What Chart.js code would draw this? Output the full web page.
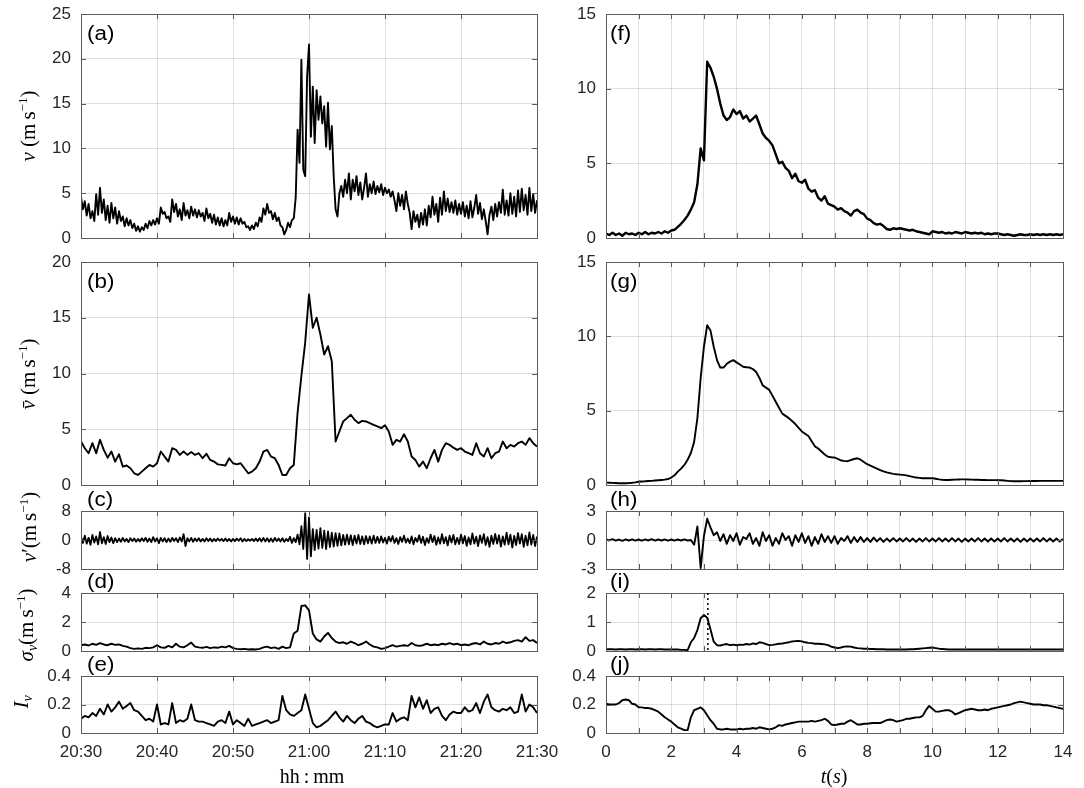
<!DOCTYPE html>
<html><head><meta charset="utf-8">
<script src="https://cdn.jsdelivr.net/npm/chart.js@4.4.1/dist/chart.umd.min.js"></script>
<style>
html,body{margin:0;padding:0;background:#fff;}
#wrap{position:relative;width:1084px;height:788px;overflow:hidden;background:#fff;}
canvas{position:absolute;}
.lbl{position:absolute;white-space:nowrap;font-family:'Liberation Serif','DejaVu Serif',serif;font-size:20px;color:#000;transform:translate(-50%,-50%);line-height:1;}
.rot{transform:translate(-50%,-50%) rotate(-90deg);font-size:21px;}
.lbl sup{font-size:13px;vertical-align:8px;}
.lbl sub{font-size:14px;vertical-align:-4px;}
.sp{display:inline-block;width:4px;}
.let{position:absolute;font-family:'Liberation Sans',Arial,sans-serif;font-size:20px;color:#000;transform:translateY(-50%) scaleX(1.12);transform-origin:left center;line-height:1;}
</style></head>
<body><div id="wrap"></div>
<script>
// ---------- DATA ----------
const leftTimeLabels = ['20:30','20:40','20:50','21:00','21:10','21:20','21:30'];
const rightTimeLabels = ['0','2','4','6','8','10','12','14'];
const yTicksA = ['0','5','10','15','20','25'];
const yTicksB = ['0','5','10','15','20'];
const yTicksC = ['-8','0','8'];
const yTicksD = ['0','2','4'];
const yTicksE = ['0','0.2','0.4'];
const yTicksF = ['0','5','10','15'];
const yTicksH = ['-3','0','3'];
const yTicksI = ['0','1','2'];

// (a) v, every 0.25 min
const vSpeed = [
4.6,3.2,4.1,2.5,3.8,2.2,3.0,1.9,4.9,2.6,5.6,2.8,4.3,2.0,3.6,1.7,3.9,2.2,3.4,1.6,
3.0,1.9,2.4,1.3,2.2,1.4,2.0,1.1,1.6,0.8,1.3,0.7,1.2,0.9,1.6,1.1,1.9,1.4,2.0,1.5,
2.2,1.6,3.4,2.7,2.9,2.2,2.4,1.8,4.3,2.9,3.8,2.4,3.2,2.0,3.9,2.5,3.1,2.2,3.5,2.5,
3.2,2.3,3.1,2.4,2.8,1.9,3.3,2.2,2.7,1.7,2.6,1.5,2.3,1.4,2.2,1.3,2.0,1.4,2.8,1.8,
2.4,1.6,2.3,1.5,2.2,1.6,1.8,1.2,1.3,0.9,1.4,1.0,1.7,1.3,2.3,1.8,3.3,2.6,3.8,2.8,
3.0,2.1,2.8,1.9,2.3,1.4,1.2,0.4,0.9,1.7,1.2,2.0,2.2,4.5,12.1,8.4,19.9,7.6,6.9,18.0,
21.6,11.3,16.9,10.6,16.5,13.2,15.8,12.8,14.7,10.2,15.1,9.9,12.5,6.9,3.2,2.4,5.0,5.8,4.6,6.5,
5.0,7.2,4.3,6.5,5.2,6.9,4.8,6.2,4.3,5.6,7.2,4.6,6.0,5.0,6.3,4.9,5.8,5.1,6.0,4.8,
5.6,5.0,5.4,4.6,5.2,4.2,3.0,5.0,3.6,4.8,3.2,5.2,3.8,2.8,1.0,3.0,1.8,2.6,1.2,2.8,
1.5,3.2,1.4,3.6,2.3,4.6,2.6,3.8,1.8,4.5,2.6,5.2,3.0,4.4,2.9,4.0,2.8,4.2,2.6,3.8,
2.7,4.0,2.4,3.6,2.2,4.1,2.3,3.4,4.8,2.7,3.9,2.1,3.2,1.9,0.4,2.6,3.5,2.0,3.8,2.4,
4.0,2.8,5.4,2.6,4.2,2.5,5.0,2.7,4.6,2.4,5.3,2.9,5.5,3.1,4.8,2.6,5.6,3.0,4.9,2.8,4.2];

// (b) mean v, every 0.5 min
const vMean = [
3.9,3.3,2.85,3.75,2.85,4.05,3.15,2.45,3.0,2.1,
2.75,1.65,1.75,1.5,1.05,0.9,1.2,1.5,1.8,1.65,
1.95,3.0,2.55,2.1,3.3,3.15,2.7,3.0,2.7,2.95,
2.7,2.85,2.4,2.8,2.25,2.1,1.85,1.8,1.75,2.4,
1.95,1.85,1.95,1.5,1.05,1.2,1.5,2.1,3.0,3.15,
2.55,2.4,1.8,0.9,0.9,1.5,1.8,6.5,9.8,12.8,
17.1,14.1,15.0,13.5,11.7,12.45,11.1,3.9,4.8,5.7,
6.0,6.3,5.85,5.55,5.75,5.7,5.55,5.4,5.25,5.1,
5.35,4.8,3.6,4.05,3.9,4.55,3.9,2.55,2.25,1.65,
2.1,1.5,2.4,3.15,2.1,3.15,3.75,3.6,3.35,3.15,
3.3,3.0,2.85,2.7,3.75,2.85,2.55,3.3,2.4,2.85,
3.0,3.9,3.3,3.6,3.45,3.75,3.9,3.6,4.2,3.75,3.45];

// (c) v' fluctuation, every 0.25 min
const vFluct = [
0.9,-0.8,1.2,-1.0,0.6,-1.3,1.4,-0.7,1.0,-1.2,2.2,-0.9,0.8,-1.1,1.1,-0.6,0.7,-0.9,0.5,-0.6,
0.4,-0.5,0.6,-0.4,0.3,-0.6,0.5,-0.3,0.4,-0.5,0.3,-0.4,0.5,-0.3,0.6,-0.5,0.4,-0.6,0.8,-0.4,
0.5,-0.9,0.6,-0.4,0.5,-0.6,0.4,-0.5,0.6,-0.3,0.5,-0.6,0.7,-0.4,1.6,-1.7,0.5,-0.4,0.6,-0.5,
0.4,-0.3,0.5,-0.4,0.3,-0.4,0.5,-0.3,0.4,-0.4,0.3,-0.3,0.4,-0.2,0.3,-0.3,0.4,-0.3,0.3,-0.4,
0.3,-0.3,0.4,-0.2,0.5,-0.4,0.3,-0.3,0.2,-0.2,0.3,-0.3,0.4,-0.3,0.5,-0.4,0.6,-0.4,0.5,-0.5,
0.4,-0.5,0.6,-0.3,0.4,-0.4,0.5,-0.5,0.3,-0.3,0.9,-0.8,0.5,-0.6,1.5,-1.2,3.8,-2.5,7.4,-5.2,
6.2,-4.5,3.0,-2.8,2.8,-2.4,3.3,-2.2,2.6,-2.5,2.4,-2.0,2.0,-1.8,1.9,-1.6,1.8,-1.5,1.4,-1.3,
1.5,-1.2,1.3,-1.4,1.2,-1.0,1.4,-1.1,1.0,-1.2,1.1,-0.9,1.0,-1.0,1.2,-0.8,0.9,-0.8,1.0,-0.7,
0.6,-1.0,0.9,-0.4,1.1,-0.8,0.5,-1.1,0.8,-0.5,1.2,-0.7,0.4,-0.9,1.0,-1.2,0.6,-0.5,1.3,-0.8,
0.9,-1.4,0.5,-0.8,1.5,-0.6,1.1,-1.3,0.7,-1.0,1.6,-0.9,0.8,-1.5,1.2,-0.7,1.4,-1.2,0.6,-1.1,
1.5,-0.9,1.1,-1.6,0.7,-1.2,1.8,-1.0,0.9,-1.7,1.3,-0.8,1.6,-1.4,0.8,-1.9,1.2,-1.1,1.7,-1.0,
1.3,-1.8,1.0,-1.3,2.0,-1.2,1.5,-2.1,1.1,-1.4,1.9,-1.0,1.6,-1.9,1.2,-1.5,2.1,-1.3,1.4,-1.7,1.0];

// (d) sigma_v, every 0.5 min
const sigmaV = [
0.40,0.45,0.38,0.50,0.42,0.55,0.45,0.40,0.50,0.42,
0.45,0.35,0.30,0.20,0.15,0.18,0.15,0.22,0.20,0.25,
0.40,0.25,0.22,0.35,0.25,0.50,0.30,0.25,0.40,0.58,
0.30,0.25,0.22,0.28,0.20,0.25,0.22,0.30,0.25,0.35,
0.20,0.15,0.12,0.15,0.10,0.12,0.10,0.15,0.25,0.30,
0.20,0.25,0.15,0.30,0.20,0.25,1.20,1.40,3.10,3.15,
2.80,1.20,0.80,0.65,1.00,1.25,0.90,0.65,0.55,0.60,
0.50,0.65,0.55,0.40,0.50,0.65,0.45,0.30,0.25,0.15,
0.20,0.30,0.40,0.30,0.35,0.40,0.35,0.55,0.40,0.35,
0.40,0.50,0.40,0.45,0.40,0.50,0.45,0.55,0.45,0.50,
0.40,0.45,0.40,0.50,0.55,0.45,0.65,0.50,0.45,0.55,
0.50,0.65,0.55,0.60,0.70,0.75,0.65,0.95,0.70,0.75,0.55];

// (e) turbulence intensity, every 0.5 min
const intensV = [
0.10,0.12,0.11,0.14,0.12,0.17,0.13,0.20,0.15,0.18,
0.22,0.17,0.19,0.21,0.16,0.15,0.12,0.09,0.10,0.08,
0.20,0.06,0.07,0.06,0.21,0.07,0.09,0.08,0.10,0.20,
0.09,0.08,0.08,0.07,0.06,0.05,0.08,0.09,0.07,0.15,
0.06,0.09,0.07,0.05,0.10,0.05,0.06,0.07,0.08,0.09,
0.07,0.08,0.09,0.26,0.16,0.13,0.12,0.14,0.16,0.27,
0.17,0.07,0.04,0.05,0.07,0.09,0.12,0.15,0.11,0.08,
0.12,0.09,0.07,0.10,0.12,0.08,0.07,0.05,0.04,0.05,
0.06,0.06,0.14,0.08,0.10,0.11,0.09,0.26,0.18,0.25,
0.17,0.23,0.14,0.17,0.18,0.12,0.09,0.13,0.15,0.14,
0.14,0.18,0.15,0.16,0.21,0.14,0.22,0.27,0.18,0.16,
0.15,0.17,0.16,0.18,0.14,0.15,0.27,0.15,0.20,0.18,0.14];

// right column: seconds, every 0.1 s
const fSpeed = [
0.3,0.2,0.35,0.2,0.3,0.15,0.35,0.25,0.3,0.2,
0.35,0.25,0.4,0.25,0.35,0.3,0.4,0.3,0.45,0.35,
0.5,0.55,0.75,0.95,1.2,1.5,1.9,2.4,3.6,6.0,
5.2,11.8,11.4,10.8,10.0,9.0,8.2,7.9,8.1,8.6,
8.3,8.5,8.0,8.2,7.8,8.0,8.2,7.6,7.0,6.7,
6.5,6.2,5.6,5.0,5.1,4.7,4.5,4.0,4.3,3.8,
3.7,3.9,3.3,3.1,3.2,2.7,2.5,2.8,2.3,2.2,
2.1,1.9,2.0,1.8,1.7,1.5,1.8,1.9,1.7,1.6,
1.3,1.2,1.0,0.9,0.95,0.8,0.6,0.55,0.65,0.6,
0.65,0.6,0.55,0.5,0.55,0.45,0.4,0.35,0.3,0.25,
0.45,0.4,0.35,0.4,0.3,0.35,0.3,0.4,0.35,0.3,
0.4,0.35,0.3,0.35,0.3,0.35,0.25,0.3,0.25,0.3,
0.3,0.25,0.2,0.25,0.2,0.15,0.2,0.25,0.2,0.2,
0.25,0.2,0.25,0.2,0.25,0.2,0.25,0.2,0.25,0.2,0.25];

const gMean = [
0.16,0.15,0.14,0.13,0.12,0.12,0.12,0.13,0.15,0.18,
0.22,0.24,0.25,0.27,0.28,0.30,0.32,0.34,0.36,0.40,
0.50,0.65,0.90,1.10,1.35,1.70,2.15,2.90,4.50,7.20,
9.30,10.75,10.40,9.30,8.40,7.90,7.90,8.15,8.30,8.40,
8.25,8.10,7.95,7.92,7.90,7.80,7.60,7.20,6.70,6.55,
6.40,6.00,5.60,5.20,4.80,4.65,4.50,4.30,4.10,3.85,
3.60,3.45,3.30,2.95,2.60,2.45,2.25,2.05,1.90,1.87,
1.85,1.75,1.65,1.62,1.60,1.68,1.75,1.80,1.70,1.55,
1.40,1.30,1.20,1.10,1.00,0.92,0.85,0.80,0.75,0.72,
0.70,0.68,0.65,0.60,0.55,0.50,0.48,0.45,0.45,0.45,
0.45,0.42,0.38,0.35,0.34,0.34,0.35,0.36,0.37,0.38,
0.38,0.37,0.36,0.35,0.35,0.34,0.34,0.33,0.33,0.33,
0.33,0.32,0.30,0.28,0.26,0.25,0.25,0.25,0.26,0.26,
0.27,0.27,0.27,0.28,0.28,0.28,0.28,0.28,0.28,0.28,0.28];

const hFluct = [
0.05,-0.05,0.08,-0.06,0.05,-0.08,0.06,-0.05,0.07,-0.06,
0.05,-0.07,0.06,-0.05,0.08,-0.06,0.05,-0.05,0.06,-0.07,
0.05,-0.06,0.05,-0.05,0.06,-0.05,0.0,-0.5,1.4,-2.9,
0.4,2.2,1.3,0.5,0.8,-0.1,0.6,-0.4,0.5,-0.1,
0.7,-0.5,0.3,0.1,0.7,-0.4,0.2,-0.6,0.8,-0.1,
0.5,-0.6,0.2,-0.4,0.7,0.0,0.4,-0.6,0.5,-0.2,
0.7,-0.3,0.4,-0.6,0.3,-0.4,0.6,-0.2,0.4,-0.3,
0.4,-0.4,0.2,-0.1,0.4,-0.3,0.3,-0.2,0.3,-0.2,
0.2,-0.2,0.25,-0.15,0.2,-0.2,0.15,-0.15,0.2,-0.15,
0.15,-0.15,0.2,-0.15,0.15,-0.2,0.15,-0.15,0.2,-0.15,
0.15,-0.15,0.2,-0.15,0.15,-0.15,0.2,-0.15,0.15,-0.2,
0.15,-0.15,0.15,-0.15,0.2,-0.15,0.15,-0.15,0.15,-0.15,
0.15,-0.15,0.2,-0.15,0.15,-0.15,0.15,-0.2,0.15,-0.15,
0.15,-0.15,0.15,-0.15,0.2,-0.15,0.15,-0.15,0.15,-0.15,0.1];

const iSigma = [
0.06,0.06,0.06,0.05,0.06,0.06,0.05,0.06,0.06,0.05,
0.06,0.06,0.05,0.06,0.06,0.05,0.06,0.06,0.05,0.05,
0.05,0.05,0.05,0.04,0.04,0.03,0.30,0.45,0.72,1.13,
1.24,1.15,0.75,0.32,0.20,0.19,0.22,0.24,0.20,0.22,
0.20,0.22,0.21,0.24,0.22,0.26,0.24,0.30,0.28,0.24,
0.20,0.21,0.23,0.25,0.26,0.28,0.30,0.33,0.34,0.35,
0.33,0.30,0.28,0.27,0.25,0.25,0.24,0.23,0.20,0.15,
0.12,0.10,0.12,0.15,0.16,0.15,0.12,0.10,0.09,0.08,
0.08,0.07,0.07,0.06,0.06,0.06,0.05,0.05,0.05,0.05,
0.05,0.05,0.05,0.06,0.06,0.07,0.08,0.09,0.10,0.11,
0.12,0.10,0.08,0.07,0.06,0.05,0.05,0.05,0.05,0.05,
0.05,0.05,0.05,0.05,0.05,0.05,0.05,0.05,0.05,0.05,
0.05,0.05,0.05,0.05,0.05,0.05,0.05,0.05,0.05,0.05,
0.05,0.05,0.05,0.05,0.05,0.05,0.05,0.05,0.05,0.05,0.05];
const iMarkerT = 3.12;

const jIntens = [
0.205,0.20,0.20,0.20,0.21,0.23,0.235,0.23,0.205,0.20,
0.18,0.18,0.175,0.175,0.17,0.16,0.15,0.13,0.11,0.095,
0.08,0.06,0.04,0.03,0.02,0.02,0.11,0.16,0.17,0.18,
0.16,0.125,0.09,0.065,0.03,0.025,0.025,0.03,0.025,0.025,
0.025,0.03,0.025,0.03,0.03,0.035,0.03,0.04,0.035,0.03,
0.025,0.03,0.04,0.055,0.05,0.06,0.065,0.07,0.075,0.08,
0.08,0.08,0.08,0.085,0.08,0.085,0.09,0.10,0.085,0.06,
0.055,0.06,0.065,0.065,0.08,0.09,0.075,0.06,0.06,0.065,
0.065,0.068,0.07,0.07,0.07,0.08,0.09,0.095,0.09,0.08,
0.085,0.09,0.10,0.10,0.105,0.11,0.11,0.12,0.16,0.19,
0.17,0.15,0.15,0.155,0.16,0.16,0.15,0.13,0.14,0.15,
0.16,0.165,0.17,0.165,0.16,0.16,0.165,0.16,0.17,0.175,
0.18,0.185,0.19,0.195,0.20,0.21,0.215,0.22,0.215,0.21,
0.205,0.20,0.20,0.20,0.195,0.195,0.19,0.185,0.18,0.175,0.17];

// ---------- LAYOUT ----------
const COLS = {L:{x0:81,x1:537,xmax:60,xstep:10,lab:(v)=>leftTimeLabels[Math.round(v/10)]},
              R:{x0:606,x1:1063,xmax:14,xstep:1,lab:(v)=>(Math.round(v)%2===0?rightTimeLabels[Math.round(v)/2]:'')}};
const ROWS = [[14,238],[262,485],[511,569],[593,651],[676,733]];
const AXW = 90, PAD = 14, PADR = 30;
const TICKFONT = {family:"'Liberation Sans', Arial, sans-serif", size:17};
const BOXCOL = '#5c5c5c';

const boxPlugin = {
  id:'box',
  afterDraw(chart, args, opts){
    const {ctx, chartArea:a, scales:{x,y}} = chart;
    ctx.save();
    ctx.strokeStyle = BOXCOL; ctx.lineWidth = 1;
    const tl = 5;
    ctx.beginPath();
    x.ticks.forEach(t=>{const p=Math.round(x.getPixelForValue(t.value))+0.5;
      ctx.moveTo(p,a.bottom); ctx.lineTo(p,a.bottom-tl); ctx.moveTo(p,a.top); ctx.lineTo(p,a.top+tl);});
    y.ticks.forEach(t=>{const p=Math.round(y.getPixelForValue(t.value))+0.5;
      ctx.moveTo(a.left,p); ctx.lineTo(a.left+tl,p); ctx.moveTo(a.right,p); ctx.lineTo(a.right-tl,p);});
    ctx.stroke();
    ctx.strokeRect(Math.round(a.left)+0.5, Math.round(a.top)+0.5, Math.round(a.right-a.left), Math.round(a.bottom-a.top));
    if (opts && opts.marker != null){
      const p = x.getPixelForValue(opts.marker);
      ctx.strokeStyle = '#000'; ctx.lineWidth = 1.5; ctx.setLineDash([2,3]);
      ctx.beginPath(); ctx.moveTo(p,a.top); ctx.lineTo(p,a.bottom); ctx.stroke();
    }
    ctx.restore();
  }
};

const panels = [
  {col:'L',row:0,data:vSpeed,step:0.25,ymin:0,ymax:25,ystep:5,yl:yTicksA,letter:'(a)',lw:1.9},
  {col:'L',row:1,data:vMean,step:0.5,ymin:0,ymax:20,ystep:5,yl:yTicksB,letter:'(b)',lw:1.9},
  {col:'L',row:2,data:vFluct,step:0.25,ymin:-8,ymax:8,ystep:8,yl:yTicksC,letter:'(c)',lw:1.8},
  {col:'L',row:3,data:sigmaV,step:0.5,ymin:0,ymax:4,ystep:2,yl:yTicksD,letter:'(d)',lw:1.9},
  {col:'L',row:4,data:intensV,step:0.5,ymin:0,ymax:0.4,ystep:0.2,yl:yTicksE,letter:'(e)',lw:1.9},
  {col:'R',row:0,data:fSpeed,step:0.1,ymin:0,ymax:15,ystep:5,yl:yTicksF,letter:'(f)',lw:2.4},
  {col:'R',row:1,data:gMean,step:0.1,ymin:0,ymax:15,ystep:5,yl:yTicksF,letter:'(g)',lw:1.9},
  {col:'R',row:2,data:hFluct,step:0.1,ymin:-3,ymax:3,ystep:3,yl:yTicksH,letter:'(h)',lw:1.9},
  {col:'R',row:3,data:iSigma,step:0.1,ymin:0,ymax:2,ystep:1,yl:yTicksI,letter:'(i)',lw:1.9,marker:iMarkerT},
  {col:'R',row:4,data:jIntens,step:0.1,ymin:0,ymax:0.4,ystep:0.2,yl:yTicksE,letter:'(j)',lw:1.9}
];

function zeroPad(s){ s.paddingLeft=0; s.paddingRight=0; s.paddingTop=0; s.paddingBottom=0; }

const wrap = document.getElementById('wrap');
panels.forEach(p=>{
  const c = COLS[p.col], r = ROWS[p.row];
  const bottom = p.row===4;
  const xh = bottom ? 28 : 0;
  const W = AXW + (c.x1-c.x0) + PADR, H = PAD + (r[1]-r[0]) + xh + PAD;
  const cv = document.createElement('canvas');
  cv.width = W; cv.height = H;
  cv.style.left = (c.x0-AXW)+'px'; cv.style.top = (r[0]-PAD)+'px';
  cv.style.width = W+'px'; cv.style.height = H+'px';
  wrap.appendChild(cv);
  const pts = p.data.map((v,i)=>({x:i*p.step, y:v}));
  const chart = new Chart(cv, {
    type:'line',
    data:{datasets:[{data:pts, borderColor:'#000', borderWidth:p.lw, pointRadius:0, tension:0, fill:false, borderJoinStyle:'round'}]},
    options:{
      responsive:false, animation:false, devicePixelRatio:1, events:[],
      layout:{padding:{top:PAD,right:PADR,bottom:PAD,left:0}},
      plugins:{legend:{display:false}, tooltip:{enabled:false}, box:{marker:p.marker}},
      scales:{
        x:{type:'linear', min:0, max:c.xmax,
           ticks:{stepSize:c.xstep, display:bottom, autoSkip:false, maxRotation:0, padding:9, font:TICKFONT, color:'#262626',
                  callback:(v)=>c.lab(v)},
           grid:{color:'rgba(0,0,0,0.12)', drawTicks:false, lineWidth:1},
           border:{display:false},
           afterFit:(s)=>{s.height = xh; zeroPad(s);}},
        y:{type:'linear', min:p.ymin, max:p.ymax,
           ticks:{stepSize:p.ystep, autoSkip:false, padding:10, font:TICKFONT, color:'#262626',
                  callback:(v,i)=>p.yl[i]},
           grid:{color:'rgba(0,0,0,0.12)', drawTicks:false, lineWidth:1},
           border:{display:false},
           afterFit:(s)=>{s.width = AXW; zeroPad(s);}}
      }
    },
    plugins:[boxPlugin]
  });
  const a = chart.chartArea;
  const want = {left:AXW, top:PAD, right:AXW+(c.x1-c.x0), bottom:PAD+(r[1]-r[0])};
  const dl = want.left - a.left, dt = want.top - a.top, dr = a.right - want.right, db = a.bottom - want.bottom;
  if (Math.abs(dl)+Math.abs(dt)+Math.abs(dr)+Math.abs(db) > 0.1){
    chart.options.layout.padding = {left:dl, top:PAD+dt, right:PADR+dr, bottom:PAD+db};
    chart.update();
  }
  const L = document.createElement('div');
  L.className = 'let'; L.textContent = p.letter;
  L.style.left = (c.x0 + (p.col==='L'?6:4))+'px';
  L.style.top = (p.row<2 ? r[0]+19 : r[0]-12)+'px';
  wrap.appendChild(L);
});

function addLabel(html, x, y, rot){
  const d = document.createElement('div');
  d.className = 'lbl' + (rot?' rot':'');
  d.innerHTML = html; d.style.left = x+'px'; d.style.top = y+'px';
  wrap.appendChild(d);
}
const UNIT = '(m<span class="sp"></span>s<sup>&minus;1</sup>)';
addLabel('<i>v</i>&nbsp;' + UNIT, 27, 126, true);
addLabel('<i>v&#772;</i>&nbsp;' + UNIT, 27, 374, true);
addLabel('<i>v</i>&prime;' + UNIT, 28, 527, true);
addLabel('<i>&sigma;<sub>v</sub></i>' + UNIT, 27, 625, true);
addLabel('<i>I<sub>v</sub></i>', 23, 702, true);
addLabel('hh<span class="sp"></span>:<span class="sp"></span>mm', 312, 776, false);
addLabel('<i>t</i>(<i>s</i>)', 834, 776, false);
</script>
</body></html>
